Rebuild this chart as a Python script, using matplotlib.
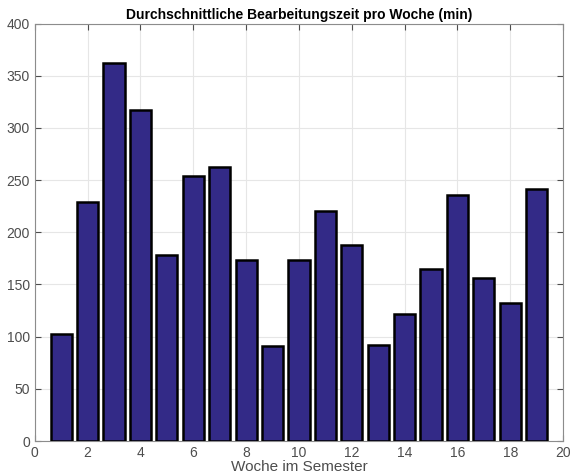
import matplotlib.pyplot as plt

plt.rcParams['font.family'] = ['Liberation Sans', 'DejaVu Sans']

weeks = list(range(1, 20))
minutes = [103, 229, 362, 317, 178, 254, 263, 173, 91, 173,
           220, 188, 92, 122, 165, 236, 156, 132, 241]

fig = plt.figure(figsize=(5.7, 4.76), dpi=100)
ax = fig.add_axes([0.061, 0.0735, 0.927, 0.877])

ax.bar(weeks, minutes, width=0.8, color='#332a87', edgecolor='black', linewidth=1.8, zorder=3)

ax.set_xlim(0, 20)
ax.set_ylim(0, 400)
ax.set_xticks(range(0, 21, 2))
ax.set_yticks(range(0, 401, 50))
ax.grid(True, color='#e6e6e6', linewidth=0.8, zorder=0)
ax.tick_params(direction='in', top=True, right=True, colors='#4d4d4d', labelsize=10, length=4)
for s in ax.spines.values():
    s.set_color('#8c8c8c')
    s.set_linewidth(0.8)

ax.set_title('Durchschnittliche Bearbeitungszeit pro Woche (min)', fontsize=10, fontweight='bold', pad=3)
ax.set_xlabel('Woche im Semester', fontsize=11, color='#4d4d4d', labelpad=0)

fig.savefig('out.png', dpi=100)
